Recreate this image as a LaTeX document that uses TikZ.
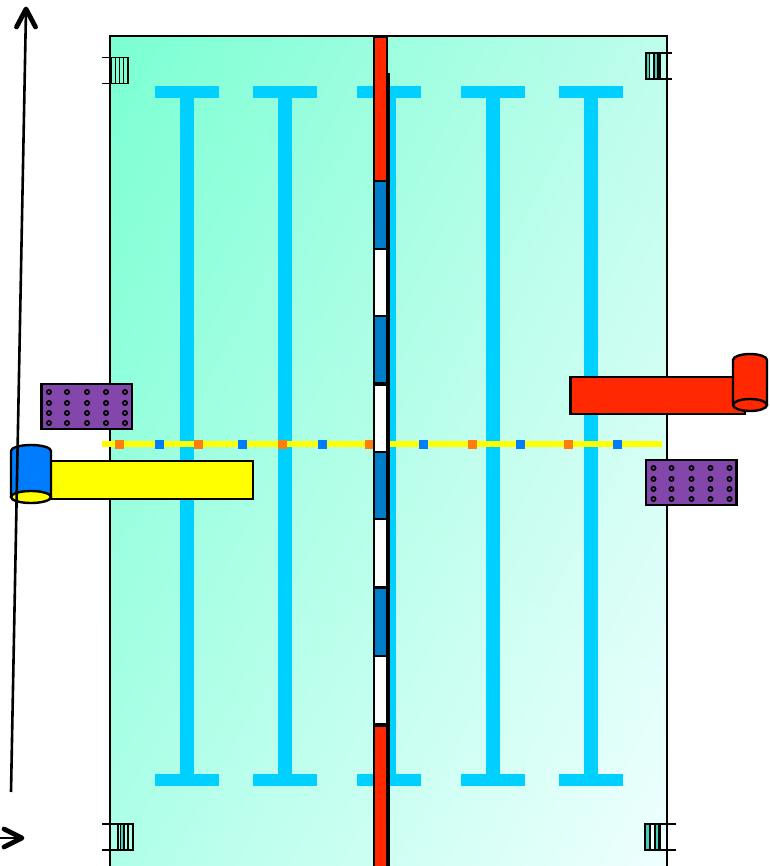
\documentclass[tikz,border=0pt]{standalone}
\usetikzlibrary{shadings}
\definecolor{platetl}{RGB}{122,255,210}
\definecolor{platetr}{RGB}{190,253,236}
\definecolor{platebl}{RGB}{176,255,232}
\definecolor{platebr}{RGB}{240,255,255}
\definecolor{railblue}{RGB}{0,208,255}
\definecolor{stripred}{RGB}{255,40,0}
\definecolor{stripblue}{RGB}{0,125,200}
\definecolor{cylblue}{RGB}{0,125,255}
\definecolor{plum}{RGB}{131,70,170}
\definecolor{sqorange}{RGB}{255,125,10}
\definecolor{fixteal}{RGB}{70,205,185}
\definecolor{pureyellow}{RGB}{255,255,0}
\tikzset{
  outline/.style={draw=black,line width=2.4pt},
  railbar/.style={fill=railblue,draw=none},
  perf/.style={draw=black,line width=1.7pt,fill=plum},
  stick/.style={draw=black,line width=2.6pt},
  head/.style={draw=black,line width=4.8pt,line cap=round,line join=round},
  fixline/.style={draw=black,line width=1.8pt}
}
\newcommand{\railpair}[1]{%
  \fill[railbar] (#1-32,86) rectangle (#1+32,98);
  \fill[railbar] (#1-32,774) rectangle (#1+32,786);
  \fill[railbar] (#1-7,98) rectangle (#1+7,774);
}
\newcommand{\fixture}[8]{% x0 x1 y0 y1 stem end, v1 v2 v3
  \draw[fixline] (#5,#3) -- (#2,#3) (#5,#4) -- (#2,#4);
  \draw[fixline] (#1,#3) rectangle (#2,#4);
  \draw[fixline] (#6,#3) -- (#6,#4) (#7,#3) -- (#7,#4) (#8,#3) -- (#8,#4);
}
\newcommand{\perfplate}[2]{%
  \draw[outline,fill=plum] (#1,#2) rectangle ++(90.5,45);
  \foreach \dx in {7.5,25.5,45.5,64.5,83.5}
    \foreach \dy in {8,19,29,39}
      \draw[perf] (#1+\dx,#2+\dy) circle (2.1pt);
}
\newcommand{\stripseg}[3]{\fill[#1] (375,#2) rectangle (386,#3);}
\begin{document}
\begin{tikzpicture}[x=1pt,y=-1pt]
\useasboundingbox (0,0) rectangle (769,866);
\clip (0,0) rectangle (769,866);
% plate
\shade[upper left=platetl,upper right=platetr,lower left=platebl,lower right=platebr]
  (110,36) rectangle (667,880);
% rails
\railpair{187}
\railpair{285}
\railpair{389}
\railpair{493}
\railpair{591}
% plate outline
\draw[outline] (110,880) -- (110,36) -- (667,36) -- (667,880);
% fixtures
\fill[fixteal] (646,53) rectangle (650,79) (654,53) rectangle (658,79);
\fill[fixteal] (645,824) rectangle (650,850) (655,824) rectangle (658.5,850);
\fill[fixteal] (120.5,824) rectangle (124,850);
\fixture{111}{128}{57.5}{83.5}{102}{115.5}{119.5}{123.5}
\fixture{646}{660}{53}{79}{672}{649.5}{654}{658}
\fixture{118}{133}{824}{850}{102}{120.5}{124}{128}
\fixture{645}{660}{824}{850}{676}{650}{655}{658.5}
% yellow line with squares
\fill[pureyellow] (102,441) rectangle (662,447);
\foreach \sx in {119,198,282,369,472,568}
  \fill[sqorange] (\sx-4.5,440) rectangle (\sx+4.5,448.5);
\foreach \sx in {159,242,322,423,520,617}
  \fill[cylblue] (\sx-4.5,440) rectangle (\sx+4.5,448.5);
% central strip
\fill[black] (373,36.5) rectangle (388,80);
\fill[black] (372.5,73) rectangle (390,880);
\stripseg{stripred}{38.5}{180}
\stripseg{stripblue}{182.5}{248}
\stripseg{white}{250}{314.5}
\stripseg{stripblue}{317}{382}
\stripseg{white}{385.5}{450.5}
\stripseg{stripblue}{453}{518}
\stripseg{white}{520}{586}
\stripseg{stripblue}{589}{655}
\stripseg{white}{657}{723}
\stripseg{stripred}{726.5}{880}
% perforated plates
\perfplate{41.5}{384}
\perfplate{646}{460}
% yellow carriage
\draw[outline,fill=pureyellow] (51,461) rectangle (253,499);
\draw[outline,fill=cylblue] (11,497) -- (11,451) arc[start angle=180,end angle=360,x radius=20,y radius=6] -- (51,497);
\draw[outline,fill=pureyellow] (31,497) ellipse [x radius=20,y radius=6];
% red carriage
\draw[outline,fill=stripred] (570.5,377) rectangle (745,414);
\draw[outline,fill=stripred] (733,405) -- (733,360) arc[start angle=180,end angle=360,x radius=17,y radius=6] -- (767,405);
\draw[outline,fill=stripred] (750,405) ellipse [x radius=17,y radius=6];
% axes
\draw[stick] (11,792) -- (26,10);
\draw[head] (16.5,27) -- (26,9) -- (35.5,27);
\draw[stick] (0,838) -- (21,838);
\draw[head] (4,829) -- (22,838) -- (4,847);
\end{tikzpicture}
\end{document}
